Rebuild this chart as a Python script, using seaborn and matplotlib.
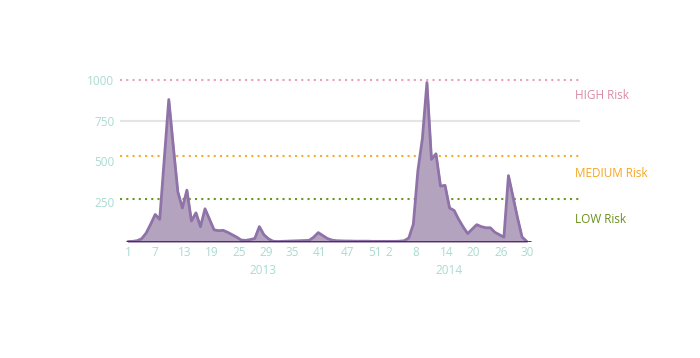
import matplotlib
matplotlib.use('Agg')
import matplotlib.pyplot as plt
import seaborn as sns
import pandas as pd

# weekly values, 2013 week 1 .. 2014 week ~30
values = [3, 4, 8, 20, 55, 110, 170, 140, 510, 880,
          590, 310, 210, 320, 130, 180, 95, 205, 140, 75,
          70, 72, 60, 45, 30, 12, 10, 15, 22, 95,
          45, 20, 5, 3, 4, 5, 6, 7, 8, 9,
          10, 30, 58, 40, 22, 12, 8, 7, 6, 6,
          5, 5, 5, 5, 4, 4, 4, 4, 4, 4,
          5, 8, 25, 110, 440, 640, 985, 510, 545, 345,
          350, 210, 195, 140, 93, 52, 80, 107, 95, 88,
          88, 60, 45, 30, 410, 280, 150, 31, 5]
week_idx = list(range(len(values)))

tick_idx = [0, 6, 12.5, 18.5, 24.5, 30.5, 36.3, 42.3, 48.5, 54.5, 57.5, 63.5, 70.3, 76.3, 82.3, 88.2]
tick_labels = ['1', '7', '13', '19', '25', '29', '35', '41', '47', '51', '2', '8', '14', '20', '26', '30']
years = ['2013', '2014']
year_idx = [29.8, 70.9]

risk_names = ['HIGH Risk', 'MEDIUM Risk', 'LOW Risk']
risk_levels = [1000, 530, 265]
risk_label_y = [907, 426, 142]
risk_colors = ['#e8a0b8', '#f5ad2e', '#6e9424']
risk_text_colors = ['#d98aa8', '#f5a623', '#6a8f1f']

df = pd.DataFrame({'week': week_idx, 'value': values})

sns.set_style('white')
narrow = ['Liberation Sans Narrow', 'Open Sans', 'DejaVu Sans']
tick_col = '#a9dbd1'

fig = plt.figure(figsize=(7, 3.58), dpi=100)
ax = fig.add_axes([120 / 700, (358 - 242) / 358, 460 / 700, 170 / 358])

ax.fill_between(df['week'], df['value'], 0, color='#b3a3bf', zorder=2)
sns.lineplot(data=df, x='week', y='value', ax=ax, color='#8f72a8', linewidth=2, zorder=3)
ax.plot([-0.5, 89], [0, 0], color='#333333', linewidth=2, zorder=4, solid_capstyle='butt')

# grey gridline
ax.axhline(750, color='#e4e4e4', linewidth=1.5, zorder=1)

for name, lvl, ly, lc, tc in zip(risk_names, risk_levels, risk_label_y, risk_colors, risk_text_colors):
    ax.axhline(lvl, color=lc, linewidth=1.5, linestyle=(0, (1, 2)), zorder=1)
    ax.text(98.7, ly, name, color=tc, fontsize=8.5, va='center', ha='left', family='Open Sans')

ax.set_xlim(-1.77, 99.8)
ax.set_ylim(0, 1050)
ax.set_xticks(tick_idx)
ax.set_xticklabels(tick_labels)
ax.set_yticks([250, 500, 750, 1000])
ax.set_yticklabels(['250', '500', '750', '1000'])
ax.tick_params(axis='both', length=0, labelsize=8.5, labelcolor=tick_col)
ax.tick_params(axis='x', pad=3)
ax.tick_params(axis='y', pad=4)
for lab in ax.get_xticklabels() + ax.get_yticklabels():
    lab.set_family(narrow)

for yr, xi in zip(years, year_idx):
    ax.text(xi, -0.17, yr, transform=ax.get_xaxis_transform(), ha='center', va='center',
            fontsize=8.5, color=tick_col, family=narrow)

ax.set_xlabel('')
ax.set_ylabel('')
for s in ax.spines.values():
    s.set_visible(False)

fig.savefig('out.png', dpi=100)
